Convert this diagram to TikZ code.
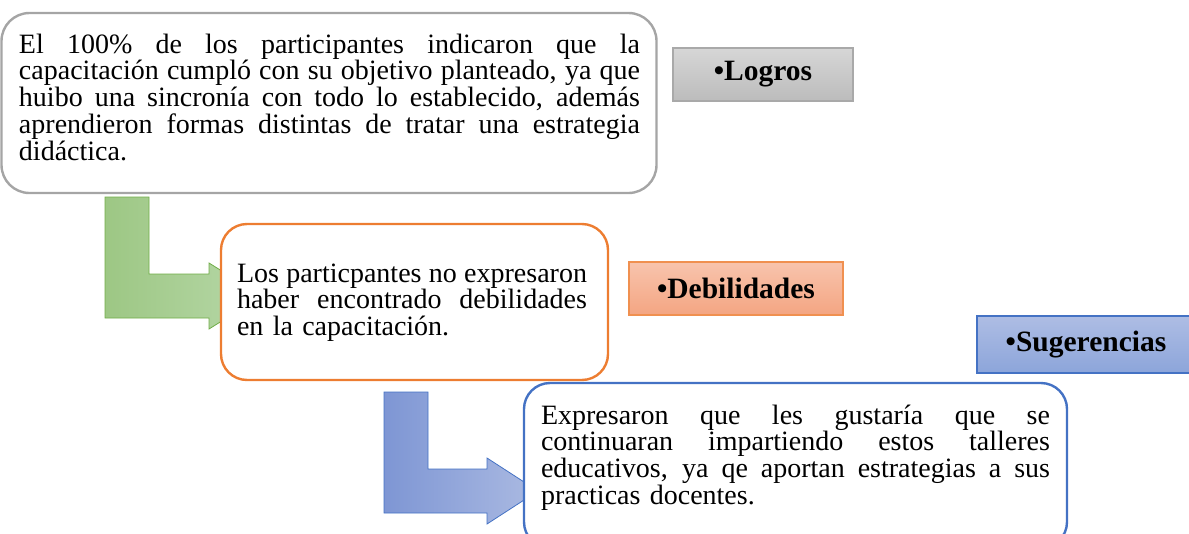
\documentclass[tikz,border=0pt]{standalone}
\usepackage{fontspec}
\setmainfont{Liberation Serif}
\definecolor{boxgray}{HTML}{A5A5A5}
\definecolor{boxorange}{HTML}{ED7D31}
\definecolor{boxblue}{HTML}{4472C4}
\definecolor{greenedge}{HTML}{70AD47}
\definecolor{greenL}{HTML}{9DC784}
\definecolor{greenR}{HTML}{B7D8A8}
\definecolor{blueL}{HTML}{7E96D4}
\definecolor{blueR}{HTML}{ABBAE2}
\definecolor{grayT}{HTML}{D6D6D6}
\definecolor{grayB}{HTML}{BCBCBC}
\definecolor{orangeT}{HTML}{F8C4AD}
\definecolor{orangeB}{HTML}{F4A582}
\definecolor{blueT}{HTML}{AEBDE4}
\definecolor{blueB}{HTML}{8CA5DA}
\newcommand{\jline}[2]{\leavevmode\hbox to #1{\spaceskip=0.25em plus 1fil\relax #2}}
\begin{document}
\begin{tikzpicture}[x=1pt,y=-1pt,
  roundbox/.style={draw, fill=white, line width=2.4pt, inner sep=0pt, outer sep=0pt, anchor=north west},
  tagbox/.style={draw, line width=1.3pt, inner sep=0pt, outer sep=0pt, anchor=north west,
     font=\fontsize{29.5}{31}\selectfont\bfseries},
  bodytext/.style={inner sep=0pt, outer sep=0pt, anchor=base west, align=left,
     font=\fontsize{28}{26.8}\selectfont},
  bentarrow/.style={line width=0.8pt, line join=miter}]
\useasboundingbox (0,0) rectangle (1189,533);
% top box and label
\node[roundbox, draw=boxgray, rounded corners=28pt, minimum width=655pt, minimum height=180pt] (b1) at (1.5,13) {};
\node[bodytext, text width=621pt] (t1) at (19,53)
 {\jline{621pt}{El 100\% de los participantes indicaron que la}\\
  \jline{621pt}{capacitación cumpló con su objetivo planteado, ya que}\\
  \jline{621pt}{huibo una sincronía con todo lo establecido, además}\\
  \jline{621pt}{aprendieron formas distintas de tratar una estrategia}\\
  didáctica.};
\node[tagbox, draw=grayB!90!black, top color=grayT, bottom color=grayB, minimum width=180pt, minimum height=53pt] (l1) at (673,48) {•Logros};
% green bent arrow
\path[bentarrow, draw=greenedge, left color=greenL, right color=greenR]
  (105,197) -- (149,197) -- (149,274) -- (209,274) -- (209,263) -- (262,296)
  -- (209,329) -- (209,318) -- (105,318) -- cycle;
% middle box and label
\node[roundbox, draw=boxorange, rounded corners=26pt, minimum width=387pt, minimum height=156pt] (b2) at (221,224) {};
\node[bodytext, text width=350pt] (t2) at (237,282)
 {\jline{350pt}{Los particpantes no expresaron}\\
  \jline{350pt}{haber encontrado debilidades}\\
  en la capacitación.};
\node[tagbox, draw=boxorange!85, top color=orangeT, bottom color=orangeB, minimum width=214pt, minimum height=53pt] (l2) at (629,262) {•Debilidades};
\node[tagbox, draw=boxblue, top color=blueT, bottom color=blueB, minimum width=218pt, minimum height=57pt] (l3) at (977,316) {•Sugerencias};
% blue bent arrow
\path[bentarrow, draw=boxblue, left color=blueL, right color=blueR]
  (384,392) -- (428,392) -- (428,469) -- (487,469) -- (487,458) -- (538,491)
  -- (487,524) -- (487,513) -- (384,513) -- cycle;
% bottom box
\node[roundbox, draw=boxblue, rounded corners=26pt, minimum width=543pt, minimum height=165pt] (b3) at (524,383) {};
\node[bodytext, text width=509pt] (t3) at (541,424)
 {\jline{509pt}{Expresaron que les gustaría que se}\\
  \jline{509pt}{continuaran impartiendo estos talleres}\\
  \jline{509pt}{educativos, ya qe aportan estrategias a sus}\\
  practicas docentes.};
\end{tikzpicture}
\end{document}
